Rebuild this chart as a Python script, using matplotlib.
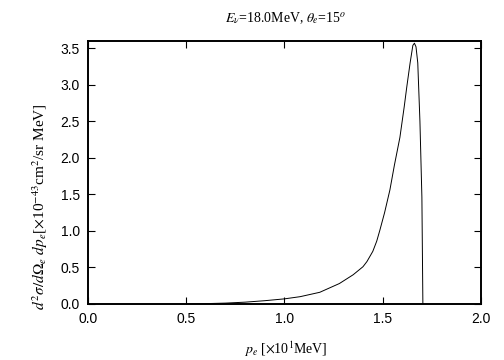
import matplotlib
matplotlib.use("Agg")
import matplotlib.pyplot as plt

# electron momentum [x10 MeV] and cross section [x1e-43 cm^2/sr MeV]
p_e = [0.50, 0.60, 0.70, 0.80, 0.90, 1.00, 1.08, 1.18, 1.28, 1.35, 1.40, 1.42,
       1.45, 1.47, 1.486, 1.51, 1.537, 1.56, 1.588, 1.61, 1.623, 1.64, 1.654,
       1.662, 1.67, 1.679, 1.69, 1.70, 1.705]
xsec = [0.0, 0.005, 0.012, 0.025, 0.045, 0.07, 0.10, 0.16, 0.28, 0.40, 0.51, 0.58,
        0.72, 0.86, 1.01, 1.25, 1.56, 1.90, 2.28, 2.70, 2.97, 3.30, 3.54,
        3.57, 3.52, 3.30, 2.50, 1.46, 0.0]

plt.rcParams["mathtext.fontset"] = "stix"
plt.rcParams["font.family"] = ["Liberation Sans", "DejaVu Sans"]

fig = plt.figure(figsize=(5.04, 3.6), dpi=100)
ax = fig.add_axes([0.1746, 0.1556, 0.7794, 0.7305])

ax.plot(p_e, xsec, color="black", linewidth=0.7)

ax.set_xlim(0, 2.0)
ax.set_ylim(0, 3.6)
ax.set_xticks([0.0, 0.5, 1.0, 1.5, 2.0])
ax.set_yticks([0.0, 0.5, 1.0, 1.5, 2.0, 2.5, 3.0, 3.5])
ax.xaxis.set_major_formatter(matplotlib.ticker.FormatStrFormatter("%.1f"))
ax.yaxis.set_major_formatter(matplotlib.ticker.FormatStrFormatter("%.1f"))
ax.tick_params(direction="in", length=5, width=0.8, labelsize=10,
               top=True, right=True, pad=6)
for s in ax.spines.values():
    s.set_linewidth(1.4)

serif = {"family": ["Liberation Serif", "DejaVu Serif"], "size": 10}
fig.text(0.5675, 0.95, r"$E_\nu$=18.0MeV, $\theta_e$=15$^o$", ha="center",
         va="center", fontdict=serif)
fig.text(0.5675, 0.004, r"$p_e$ [$\times$10$^1$MeV]", ha="center",
         va="bottom", fontdict=serif)
fig.text(0.08, 0.425, r"$d^2\sigma/d\Omega_e\ dp_e$[$\times$10$^{-43}$cm$^2$/sr MeV]",
         ha="center", va="center", rotation=90,
         fontdict={"family": ["Liberation Serif", "DejaVu Serif"], "size": 11})

fig.savefig("out.png", dpi=100)
